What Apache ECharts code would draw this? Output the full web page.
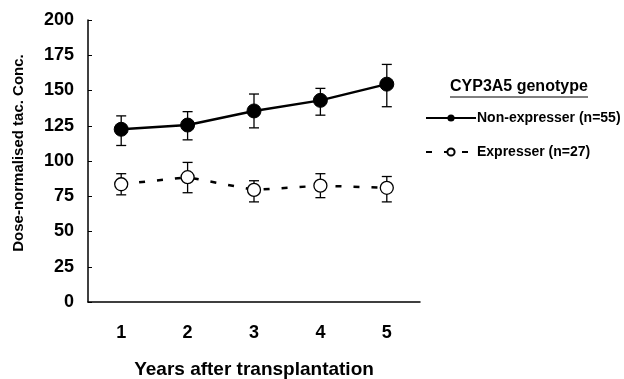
<!DOCTYPE html>
<html>
<head>
<meta charset="utf-8">
<script src="https://cdn.jsdelivr.net/npm/echarts@6/dist/echarts.min.js"></script>
<style>
  html, body { margin: 0; padding: 0; background: #fff; }
  #chart { width: 624px; height: 379px; }
</style>
</head>
<body>
<div id="chart"></div>
<script>
const years = ['1', '2', '3', '4', '5'];
const nonExpMean = [122.5, 125.5, 135.5, 143, 154.5];
const nonExpLow = [111, 115, 123.5, 132.5, 138.5];
const nonExpHigh = [132, 135, 147.5, 151.5, 168.5];
const expMean = [83.5, 88.5, 79.5, 82.5, 81];
const expLow = [76, 77.5, 71, 74, 71];
const expHigh = [91, 99, 86, 91, 89];
const yTicks = [0, 25, 50, 75, 100, 125, 150, 175, 200];

const font = '"Liberation Sans", Arial, sans-serif';

const errData = (lo, hi) => years.map((y, i) => [i, lo[i], hi[i]]);

// error bars drawn through the axes
const errorBars = (name, lo, hi) => ({
    type: 'custom',
    name: name + ' err',
    data: errData(lo, hi),
    z: 1,
    silent: true,
    renderItem: (params, api) => {
        const top = api.coord([api.value(0), api.value(2)]);
        const bot = api.coord([api.value(0), api.value(1)]);
        const w = 5;
        const style = { stroke: '#000', lineWidth: 1.3 };
        return {
            type: 'group',
            children: [
                { type: 'line', shape: { x1: top[0], y1: top[1], x2: bot[0], y2: bot[1] }, style },
                { type: 'line', shape: { x1: top[0] - w, y1: top[1], x2: top[0] + w, y2: top[1] }, style },
                { type: 'line', shape: { x1: bot[0] - w, y1: bot[1], x2: bot[0] + w, y2: bot[1] }, style }
            ]
        };
    }
});

const chart = echarts.init(document.getElementById('chart'));
chart.setOption({
    animation: false,
    grid: { left: 88, right: 204, top: 20, bottom: 77, outerBoundsMode: 'none', containLabel: false },
    legend: {
        data: ['Non-expresser (n=55)', 'Expresser (n=27)'],
        orient: 'vertical',
        left: 420,
        top: 106,
        itemWidth: 50,
        itemHeight: 9,
        itemGap: 20,
        selectedMode: false,
        textStyle: { fontFamily: font, fontWeight: 'bold', fontSize: 14, color: '#000', padding: [0, 0, 0, -4] }
    },
    graphic: [
        {
            type: 'text',
            left: 450,
            top: 79,
            style: { text: 'CYP3A5 genotype', font: 'bold 16px ' + font, fill: '#000' }
        },
        {
            type: 'line',
            shape: { x1: 450, y1: 97, x2: 588, y2: 97 },
            style: { stroke: '#000', lineWidth: 1.2 }
        },
        {
            type: 'text',
            x: 19,
            y: 153,
            rotation: Math.PI / 2,
            style: {
                text: 'Dose-normalised tac. Conc.',
                font: 'bold 15px ' + font,
                fill: '#000',
                align: 'center',
                verticalAlign: 'middle'
            }
        }
    ],
    xAxis: {
        type: 'category',
        data: years,
        boundaryGap: true,
        name: 'Years after transplantation',
        nameLocation: 'middle',
        nameGap: 58,
        nameTextStyle: { fontFamily: font, fontWeight: 'bold', fontSize: 19, color: '#000' },
        axisLine: { lineStyle: { color: '#000', width: 1.5 } },
        axisTick: { inside: true, length: 4, lineStyle: { color: '#000' } },
        axisLabel: { margin: 22, fontFamily: font, fontWeight: 'bold', fontSize: 18, color: '#000' }
    },
    yAxis: {
        type: 'value',
        min: 0,
        max: 200,
        interval: 25,
        axisLine: { show: true, lineStyle: { color: '#000', width: 1.5 } },
        axisTick: { show: true, inside: true, length: 4, lineStyle: { color: '#000' } },
        splitLine: { show: false },
        axisLabel: {
            margin: 14,
            fontFamily: font, fontWeight: 'bold', fontSize: 18, color: '#000',
            formatter: v => yTicks.includes(v) ? String(v) : ''
        }
    },
    series: [
        errorBars('Non-expresser', nonExpLow, nonExpHigh),
        errorBars('Expresser', expLow, expHigh),
        {
            name: 'Non-expresser (n=55)',
            type: 'line',
            data: nonExpMean,
            z: 3,
            symbol: 'circle',
            symbolSize: 14,
            lineStyle: { color: '#000', width: 2.5 },
            itemStyle: { color: '#000', borderColor: '#000' }
        },
        {
            name: 'Expresser (n=27)',
            type: 'line',
            data: expMean,
            z: 3,
            symbol: 'circle',
            symbolSize: 13,
            lineStyle: { color: '#000', width: 2.5, type: [6, 12] },
            itemStyle: { color: '#fff', borderColor: '#000', borderWidth: 1.3 }
        }
    ]
});
</script>
</body>
</html>
